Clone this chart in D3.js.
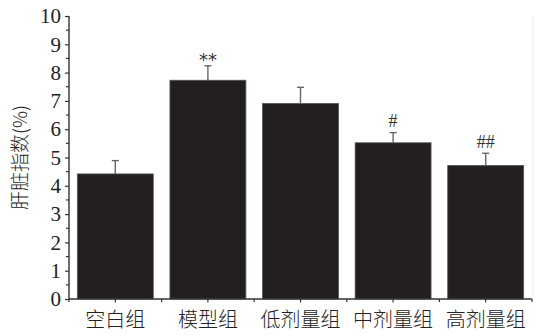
<!DOCTYPE html>
<html>
<head>
<meta charset="utf-8">
<script src="https://cdn.jsdelivr.net/npm/d3@7/dist/d3.min.js"></script>
<style>
  html, body { margin: 0; padding: 0; background: #fff; }
  svg { display: block; }
</style>
</head>
<body>
<svg id="chart" width="542" height="336"></svg>
<script>
// Liver index per group (mean and SD)
const groups = ["空白组", "模型组", "低剂量组", "中剂量组", "高剂量组"];
const means = [4.42, 7.73, 6.91, 5.52, 4.72];
const sds = [0.47, 0.51, 0.57, 0.36, 0.43];
const marks = ["", "**", "", "#", "##"];
const yTicks = [0, 1, 2, 3, 4, 5, 6, 7, 8, 9, 10];
const yLabel = "肝脏指数(%)";

const svg = d3.select("#chart");
const margin = { left: 69, right: 10, top: 16, bottom: 37 };
const W = 542, H = 336;

const x = d3.scaleBand()
  .domain(groups)
  .range([margin.left, W - margin.right])
  .paddingInner(0.18)
  .paddingOuter(0.09);

const y = d3.scaleLinear().domain([0, 10]).range([H - margin.bottom, margin.top]);

const serif = "'Liberation Serif', 'DejaVu Serif', serif";
const cjk = "'Noto Sans CJK SC', sans-serif";

// faint right border
svg.append("line")
  .attr("x1", W - margin.right + 1).attr("x2", W - margin.right + 1)
  .attr("y1", margin.top).attr("y2", H - margin.bottom)
  .attr("stroke", "#ececec").attr("stroke-width", 1);

// bars
svg.append("g").selectAll("rect")
  .data(groups)
  .join("rect")
  .attr("x", d => x(d))
  .attr("width", x.bandwidth())
  .attr("y", (d, i) => y(means[i]))
  .attr("height", (d, i) => y(0) - y(means[i]))
  .attr("fill", "#231f20")
  .attr("stroke", "#555")
  .attr("stroke-width", 0.8);

// upper error bars
const err = svg.append("g").attr("stroke", "#666").attr("stroke-width", 1.4);
groups.forEach((g, i) => {
  const cx = x(g) + x.bandwidth() / 2;
  err.append("line")
    .attr("x1", cx).attr("x2", cx)
    .attr("y1", y(means[i])).attr("y2", y(means[i] + sds[i]));
  err.append("line")
    .attr("x1", cx - 3.5).attr("x2", cx + 3.5)
    .attr("y1", y(means[i] + sds[i])).attr("y2", y(means[i] + sds[i]));
});

// significance marks
svg.append("g").selectAll("text")
  .data(groups)
  .join("text")
  .attr("x", d => x(d) + x.bandwidth() / 2)
  .attr("y", (d, i) => y(means[i] + sds[i]) - (marks[i] === "**" ? 0 : 5.5))
  .attr("text-anchor", "middle")
  .attr("font-family", (d, i) => marks[i] === "**" ? "'DejaVu Sans', sans-serif" : serif)
  .attr("font-size", 18)
  .attr("fill", "#333")
  .text((d, i) => marks[i]);

// y axis with half-step minor ticks
const yAxisG = svg.append("g").attr("transform", `translate(${margin.left},0)`);
const minorY = d3.range(0.5, 10, 1);
yAxisG.selectAll("line.minor")
  .data(minorY)
  .join("line")
  .attr("class", "minor")
  .attr("x1", -3).attr("x2", 0)
  .attr("y1", d => y(d)).attr("y2", d => y(d))
  .attr("stroke", "#333").attr("stroke-width", 1.2);
yAxisG.call(d3.axisLeft(y).tickValues(yTicks).tickSize(4).tickPadding(4).tickFormat(d3.format("d")));
yAxisG.select(".domain").attr("stroke", "#333").attr("stroke-width", 1.4).attr("d", `M0,${y(10)}V${y(0)}`);
yAxisG.selectAll(".tick line").attr("stroke", "#333").attr("stroke-width", 1.2);
yAxisG.selectAll(".tick text")
  .attr("font-family", serif).attr("font-size", 21).attr("fill", "#222");

// x axis: ticks at centers and at band boundaries
const xAxisG = svg.append("g").attr("transform", `translate(0,${y(0)})`);
const step = x.step();
const bounds = d3.range(groups.length + 1).map(i => margin.left + i * step);
xAxisG.append("line")
  .attr("x1", margin.left).attr("x2", W - margin.right)
  .attr("y1", 0).attr("y2", 0)
  .attr("stroke", "#333").attr("stroke-width", 1.4);
xAxisG.selectAll("line.b")
  .data(bounds)
  .join("line")
  .attr("class", "b")
  .attr("x1", d => d).attr("x2", d => d)
  .attr("y1", 0).attr("y2", 3)
  .attr("stroke", "#333").attr("stroke-width", 1.2);
xAxisG.selectAll("line.c")
  .data(groups)
  .join("line")
  .attr("class", "c")
  .attr("x1", d => x(d) + x.bandwidth() / 2).attr("x2", d => x(d) + x.bandwidth() / 2)
  .attr("y1", 0).attr("y2", 3.5)
  .attr("stroke", "#333").attr("stroke-width", 1.2);
xAxisG.selectAll("text")
  .data(groups)
  .join("text")
  .attr("x", d => x(d) + x.bandwidth() / 2)
  .attr("y", 27.5)
  .attr("text-anchor", "middle")
  .attr("font-family", cjk)
  .attr("font-size", 20)
  .attr("font-weight", 300)
  .attr("fill", "#222")
  .text(d => d);

// y label
svg.append("text")
  .attr("transform", `translate(27,${(y(0) + y(10)) / 2}) rotate(-90)`)
  .attr("text-anchor", "middle")
  .attr("font-family", cjk)
  .attr("font-size", 19)
  .attr("font-weight", 300)
  .attr("fill", "#222")
  .text(yLabel);
</script>
</body>
</html>
